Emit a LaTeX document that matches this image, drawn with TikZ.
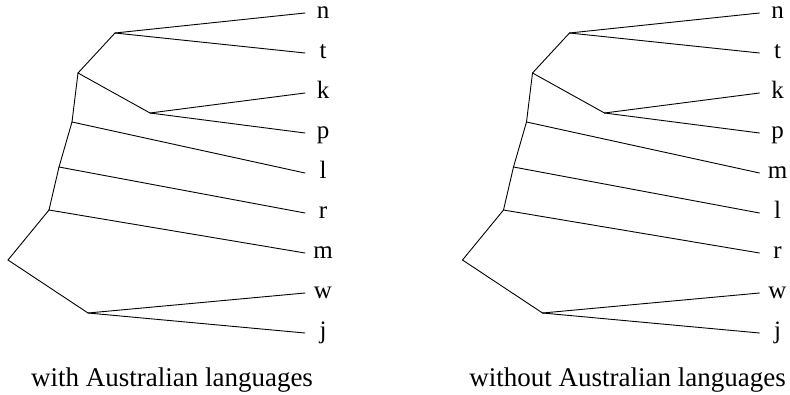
\documentclass[tikz,border=0pt]{standalone}
\usepackage{fontspec}
\setmainfont{Liberation Serif}
\begin{document}
\begin{tikzpicture}[x=1pt,y=-1pt,
  edge/.style={line width=0.9pt, line cap=round},
  leaf/.style={anchor=base, inner sep=0pt, text height=16pt, text depth=6pt, font=\fontsize{25}{25}\selectfont},
  captext/.style={anchor=base, inner sep=0pt, font=\fontsize{27}{27}\selectfont}]
\useasboundingbox (0,0) rectangle (790,394);
% ---------- left tree ----------
\coordinate (lroot) at (8,260);
\coordinate (lF) at (49,210);
\coordinate (lE) at (59,167);
\coordinate (lD) at (72,122);
\coordinate (lC) at (78,73);
\coordinate (lA) at (115,33);
\coordinate (lB) at (150,113);
\coordinate (lG) at (88,313);
\foreach \nm/\yy in {n/13,t/53,k/93,p/133,l/173,r/213,m/253,w/293,j/333}{
  \coordinate (le\nm) at (305,\yy);
  \node[leaf] (lt\nm) at (323,\yy+5.5) {\nm};
}
\draw[edge] (lroot) -- (lF);
\draw[edge] (lroot) -- (lG);
\draw[edge] (lF) -- (lE);
\draw[edge] (lF) -- (lem);
\draw[edge] (lE) -- (lD);
\draw[edge] (lE) -- (ler);
\draw[edge] (lD) -- (lC);
\draw[edge] (lD) -- (lel);
\draw[edge] (lC) -- (lA);
\draw[edge] (lC) -- (lB);
\draw[edge] (lA) -- (len);
\draw[edge] (lA) -- (let);
\draw[edge] (lB) -- (lek);
\draw[edge] (lB) -- (lep);
\draw[edge] (lG) -- (lew);
\draw[edge] (lG) -- (lej);
\node[captext] (lcap) at (172,386) {with Australian languages};
% ---------- right tree ----------
\begin{scope}[shift={(454.5,0)}]
\coordinate (rroot) at (8,260);
\coordinate (rF) at (49,210);
\coordinate (rE) at (59,167);
\coordinate (rD) at (72,122);
\coordinate (rC) at (78,73);
\coordinate (rA) at (115,33);
\coordinate (rB) at (150,113);
\coordinate (rG) at (88,313);
\foreach \nm/\yy in {n/13,t/53,k/93,p/133,m/173,l/213,r/253,w/293,j/333}{
  \coordinate (re\nm) at (305,\yy);
  \node[leaf] (rt\nm) at (323,\yy+5.5) {\nm};
}
\draw[edge] (rroot) -- (rF);
\draw[edge] (rroot) -- (rG);
\draw[edge] (rF) -- (rE);
\draw[edge] (rF) -- (rer);
\draw[edge] (rE) -- (rD);
\draw[edge] (rE) -- (rel);
\draw[edge] (rD) -- (rC);
\draw[edge] (rD) -- (rem);
\draw[edge] (rC) -- (rA);
\draw[edge] (rC) -- (rB);
\draw[edge] (rA) -- (ren);
\draw[edge] (rA) -- (ret);
\draw[edge] (rB) -- (rek);
\draw[edge] (rB) -- (rep);
\draw[edge] (rG) -- (rew);
\draw[edge] (rG) -- (rej);
\node[captext] (rcap) at (173,386) {without Australian languages};
\end{scope}
\end{tikzpicture}
\end{document}
